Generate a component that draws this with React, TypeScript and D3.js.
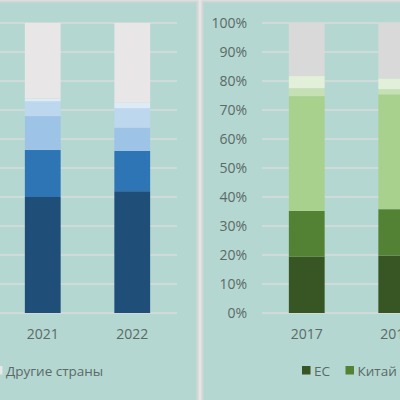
import * as d3 from 'd3';
import { useEffect, useRef } from 'react';

// left panel: shares by year (blue)
const leftYears = ['2021', '2022'];
const leftSeries = ['Группа 1', 'Группа 2', 'Группа 3', 'Группа 4', 'Группа 5', 'Другие страны'];
const leftValues = [
  [0.4, 0.162, 0.117, 0.051, 0.009, 0.261],
  [0.42, 0.139, 0.08, 0.067, 0.019, 0.275],
];
const leftColors = ['#1f4e79', '#2e75b6', '#9dc3e6', '#bdd7ee', '#ddebf7', '#e8e6e6'];

// right panel: shares by year (green)
const rightYears = ['2017', '2018'];
const rightSeries = ['ЕС', 'Китай', 'Группа 3', 'Группа 4', 'Группа 5', 'Прочие'];
const rightValues = [
  [0.194, 0.158, 0.396, 0.027, 0.042, 0.183],
  [0.198, 0.16, 0.396, 0.018, 0.037, 0.191],
];
const rightColors = ['#375623', '#548235', '#a9d18e', '#c5e0b4', '#e2f0d9', '#d9d9d9'];

const yTicks = [0, 0.1, 0.2, 0.3, 0.4, 0.5, 0.6, 0.7, 0.8, 0.9, 1];

const W = 400;
const H = 400;
const bg = '#b5d7d1';
const textColor = '#5a6a66';
const font = '"Open Sans", sans-serif';

export default function App() {
  const svgRef = useRef(null);

  useEffect(() => {
    const svg = d3.select(svgRef.current);
    svg.selectAll('*').remove();

    const yScale = d3.scaleLinear().domain([0, 1]).range([313, 23]);

    // panels
    svg.append('rect').attr('x', 0).attr('y', 0).attr('width', W).attr('height', H).attr('fill', '#e4e6e5');
    svg.append('rect').attr('x', -10).attr('y', 1.5).attr('width', 207.5).attr('height', 420)
      .attr('fill', bg).attr('stroke', '#d3d6d5').attr('stroke-width', 2);
    svg.append('rect').attr('x', 202.5).attr('y', 1.5).attr('width', 220).attr('height', 420)
      .attr('fill', bg).attr('stroke', '#d3d6d5').attr('stroke-width', 2);

    function drawChart(
      years: string[],
      series: string[],
      values: number[][],
      colors: string[],
      x0: number,
      x1: number
    ) {
      const xScale = d3.scaleBand().domain(years).range([x0, x0 + 2 * 89.5]).paddingInner(0.6).paddingOuter(0.3);

      // gridlines
      svg.append('g')
        .selectAll('line')
        .data(yTicks)
        .enter()
        .append('line')
        .attr('x1', x0)
        .attr('x2', x1)
        .attr('y1', (d) => yScale(d))
        .attr('y2', (d) => yScale(d))
        .attr('stroke', '#d9dcdb')
        .attr('stroke-width', 1.5);

      const rows = years.map((y, i) => {
        const r: any = { year: y };
        series.forEach((s, j) => (r[s] = values[i][j]));
        return r;
      });
      const stack = d3.stack().keys(series)(rows);

      svg.append('g')
        .selectAll('g')
        .data(stack)
        .enter()
        .append('g')
        .attr('fill', (_d, i) => colors[i])
        .selectAll('rect')
        .data((d) => d)
        .enter()
        .append('rect')
        .attr('x', (d: any) => xScale(d.data.year) as number)
        .attr('width', xScale.bandwidth())
        .attr('y', (d) => yScale(d[1]))
        .attr('height', (d) => yScale(d[0]) - yScale(d[1]));

      svg.append('g')
        .selectAll('text')
        .data(years)
        .enter()
        .append('text')
        .attr('x', (d) => (xScale(d) as number) + xScale.bandwidth() / 2)
        .attr('y', 339)
        .attr('text-anchor', 'middle')
        .style('font-family', font)
        .style('font-size', '14px')
        .style('fill', textColor)
        .text((d) => d);
    }

    drawChart(leftYears, leftSeries, leftValues, leftColors, -2, 177);
    drawChart(rightYears, rightSeries, rightValues, rightColors, 262, 440);

    // right y axis labels
    svg.append('g')
      .selectAll('text')
      .data(yTicks)
      .enter()
      .append('text')
      .attr('x', 247)
      .attr('y', (d) => yScale(d) + 5)
      .attr('text-anchor', 'end')
      .style('font-family', font)
      .style('font-size', '14px')
      .style('fill', textColor)
      .text((d) => d3.format('.0%')(d));

    // legends
    const legend = [
      { name: leftSeries[5], color: leftColors[5], x: -6 },
      { name: rightSeries[0], color: rightColors[0], x: 302 },
      { name: rightSeries[1], color: rightColors[1], x: 345.5 },
    ];
    const lg = svg.append('g');
    lg.selectAll('rect')
      .data(legend)
      .enter()
      .append('rect')
      .attr('x', (d) => d.x)
      .attr('y', 366)
      .attr('width', 8.5)
      .attr('height', 8.5)
      .attr('fill', (d) => d.color);
    lg.selectAll('text')
      .data(legend)
      .enter()
      .append('text')
      .attr('x', (d) => d.x + 12)
      .attr('y', 376)
      .style('font-family', font)
      .style('font-size', '13.5px')
      .style('fill', textColor)
      .text((d) => d.name);
  }, []);

  return (
    <div>
      <svg
        ref={svgRef}
        width={W}
        height={H}
        style={{ position: 'absolute', left: 0, top: 0 }}
      ></svg>
    </div>
  );
}
